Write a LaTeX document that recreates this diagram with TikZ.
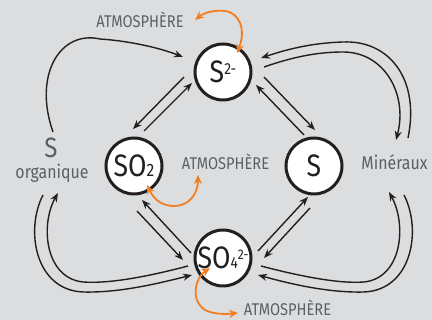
\documentclass[tikz,border=0pt]{standalone}
\usepackage{fontspec}
\setmainfont{Fira Sans}[FakeStretch=0.86]
\usetikzlibrary{arrows.meta,calc}
\definecolor{bg}{HTML}{DCDDDF}
\definecolor{txt}{HTML}{5E5F61}
\definecolor{org}{HTML}{F27E22}
\definecolor{ink}{HTML}{231F20}
\begin{document}
\begin{tikzpicture}[x=1pt,y=1pt,
 species/.style={circle,draw=ink,fill=white,line width=3pt,minimum size=56pt,inner sep=0pt,text=ink,font=\fontsize{31}{31}\selectfont},
 lbl/.style={text=txt,anchor=base,inner sep=0pt,font=\fontsize{18.5}{18.5}\selectfont},
 atm/.style={lbl,font=\fontsize{17}{17}\selectfont},
 flow/.style={draw=ink,line width=1.4pt,-{Stealth[length=9pt,width=7pt]}},
 air/.style={draw=org,line width=1.8pt,{Stealth[length=9pt,width=8pt]}-{Stealth[length=9pt,width=8pt]}}]
\fill[bg] (0,0) rectangle (432,320);
\useasboundingbox (0,0) rectangle (432,320);
% species
\node[species] (s2)  at (223,248) {S\raisebox{8pt}{\fontsize{16}{16}\selectfont 2-}};
\node[species] (so2) at (134,154) {SO\fontsize{18}{18}\selectfont 2};
\node[species] (s)   at (314,154) {S};
\node[species] (so4) at (223,62)  {SO\fontsize{16}{16}\selectfont 4\raisebox{9pt}{\fontsize{14}{14}\selectfont 2-}};
% labels
\node[lbl,font=\fontsize{28}{28}\selectfont] (sorg) at (51,162) {S};
\node[lbl] (organ) at (52,141) {organique};
\node[lbl] (mine) at (394.5,150) {Minéraux};
\node[atm] (atmT) at (140,292) {ATMOSPHÈRE};
\node[atm] (atmM) at (225.5,150) {ATMOSPHÈRE};
\node[atm] (atmB) at (287.5,4) {ATMOSPHÈRE};
% free ends
\coordinate (orgN) at (53,188);
\coordinate (orgNS) at (58,127);
\coordinate (orgS) at (43,125);
\coordinate (minN) at (408,182);
\coordinate (minNi) at (396,180);
\coordinate (minS) at (389,128);
\coordinate (minSo) at (404,125);
\coordinate (atT) at (195,300);
\coordinate (atM) at (198,145);
\coordinate (atB) at (238,7);
% straight pairs
\draw[flow] ($(s2)+(-39,-5)$) -- ($(so2)+(-1,37)$);
\draw[flow] ($(so2)+(10,35)$) -- ($(s2)+(-31,-11)$);
\draw[flow] ($(s2)+(41,-5)$) -- ($(s)+(1,36)$);
\draw[flow] ($(s)+(-10,31)$) -- ($(s2)+(33,-13)$);
\draw[flow] ($(so2)+(3,-45)$) -- ($(so4)+(-40,-2)$);
\draw[flow] ($(so4)+(-32,5)$) -- ($(so2)+(8,-34)$);
\draw[flow] ($(so4)+(35,7)$) -- ($(s)+(-6,-31)$);
\draw[flow] ($(s)+(-4,-42)$) -- ($(so4)+(41,0)$);
% curves
\draw[flow] (orgN) .. controls (33,245) and (60,290) .. (100,281) .. controls (130,279) and (160,272) .. ($(s2)+(-40,15)$);
\draw[flow] (minN) .. controls (420,240) and (390,280) .. (343,278) .. controls (310,277) and (285,270) .. ($(s2)+(38,14)$);
\draw[flow] ($(s2)+(41,5)$) .. controls (290,262) and (315,268) .. (343,268) .. controls (385,268) and (408,225) .. (minNi);
\draw[flow] ($(so4)+(-35,-8)$) .. controls (150,44) and (110,36) .. (83,38) .. controls (45,42) and (40,95) .. (orgNS);
\draw[flow] (orgS) .. controls (25,90) and (35,30) .. (83,28) .. controls (120,27) and (160,37) .. ($(so4)+(-31,-17)$);
\draw[flow] ($(so4)+(38,-8)$) .. controls (299,44) and (339,36) .. (364,38) .. controls (402,42) and (407,95) .. (minS);
\draw[flow] (minSo) .. controls (422,90) and (412,30) .. (364,28) .. controls (327,27) and (287,37) .. ($(so4)+(35,-17)$);
% atmosphere exchanges
\draw[air] (atT) .. controls (205,308) and (215,310) .. (225,309) .. controls (240,307) and (246,290) .. ($(s2)+(14,19)$);
\draw[air] ($(so2)+(13,-19)$) .. controls (155,118) and (165,114) .. (174,114) .. controls (188,114) and (198,125) .. (atM);
\draw[air] ($(so4)+(-13,-10)$) .. controls (195,42) and (190,20) .. (205,10) .. controls (215,5) and (228,6) .. (atB);
\end{tikzpicture}
\end{document}
